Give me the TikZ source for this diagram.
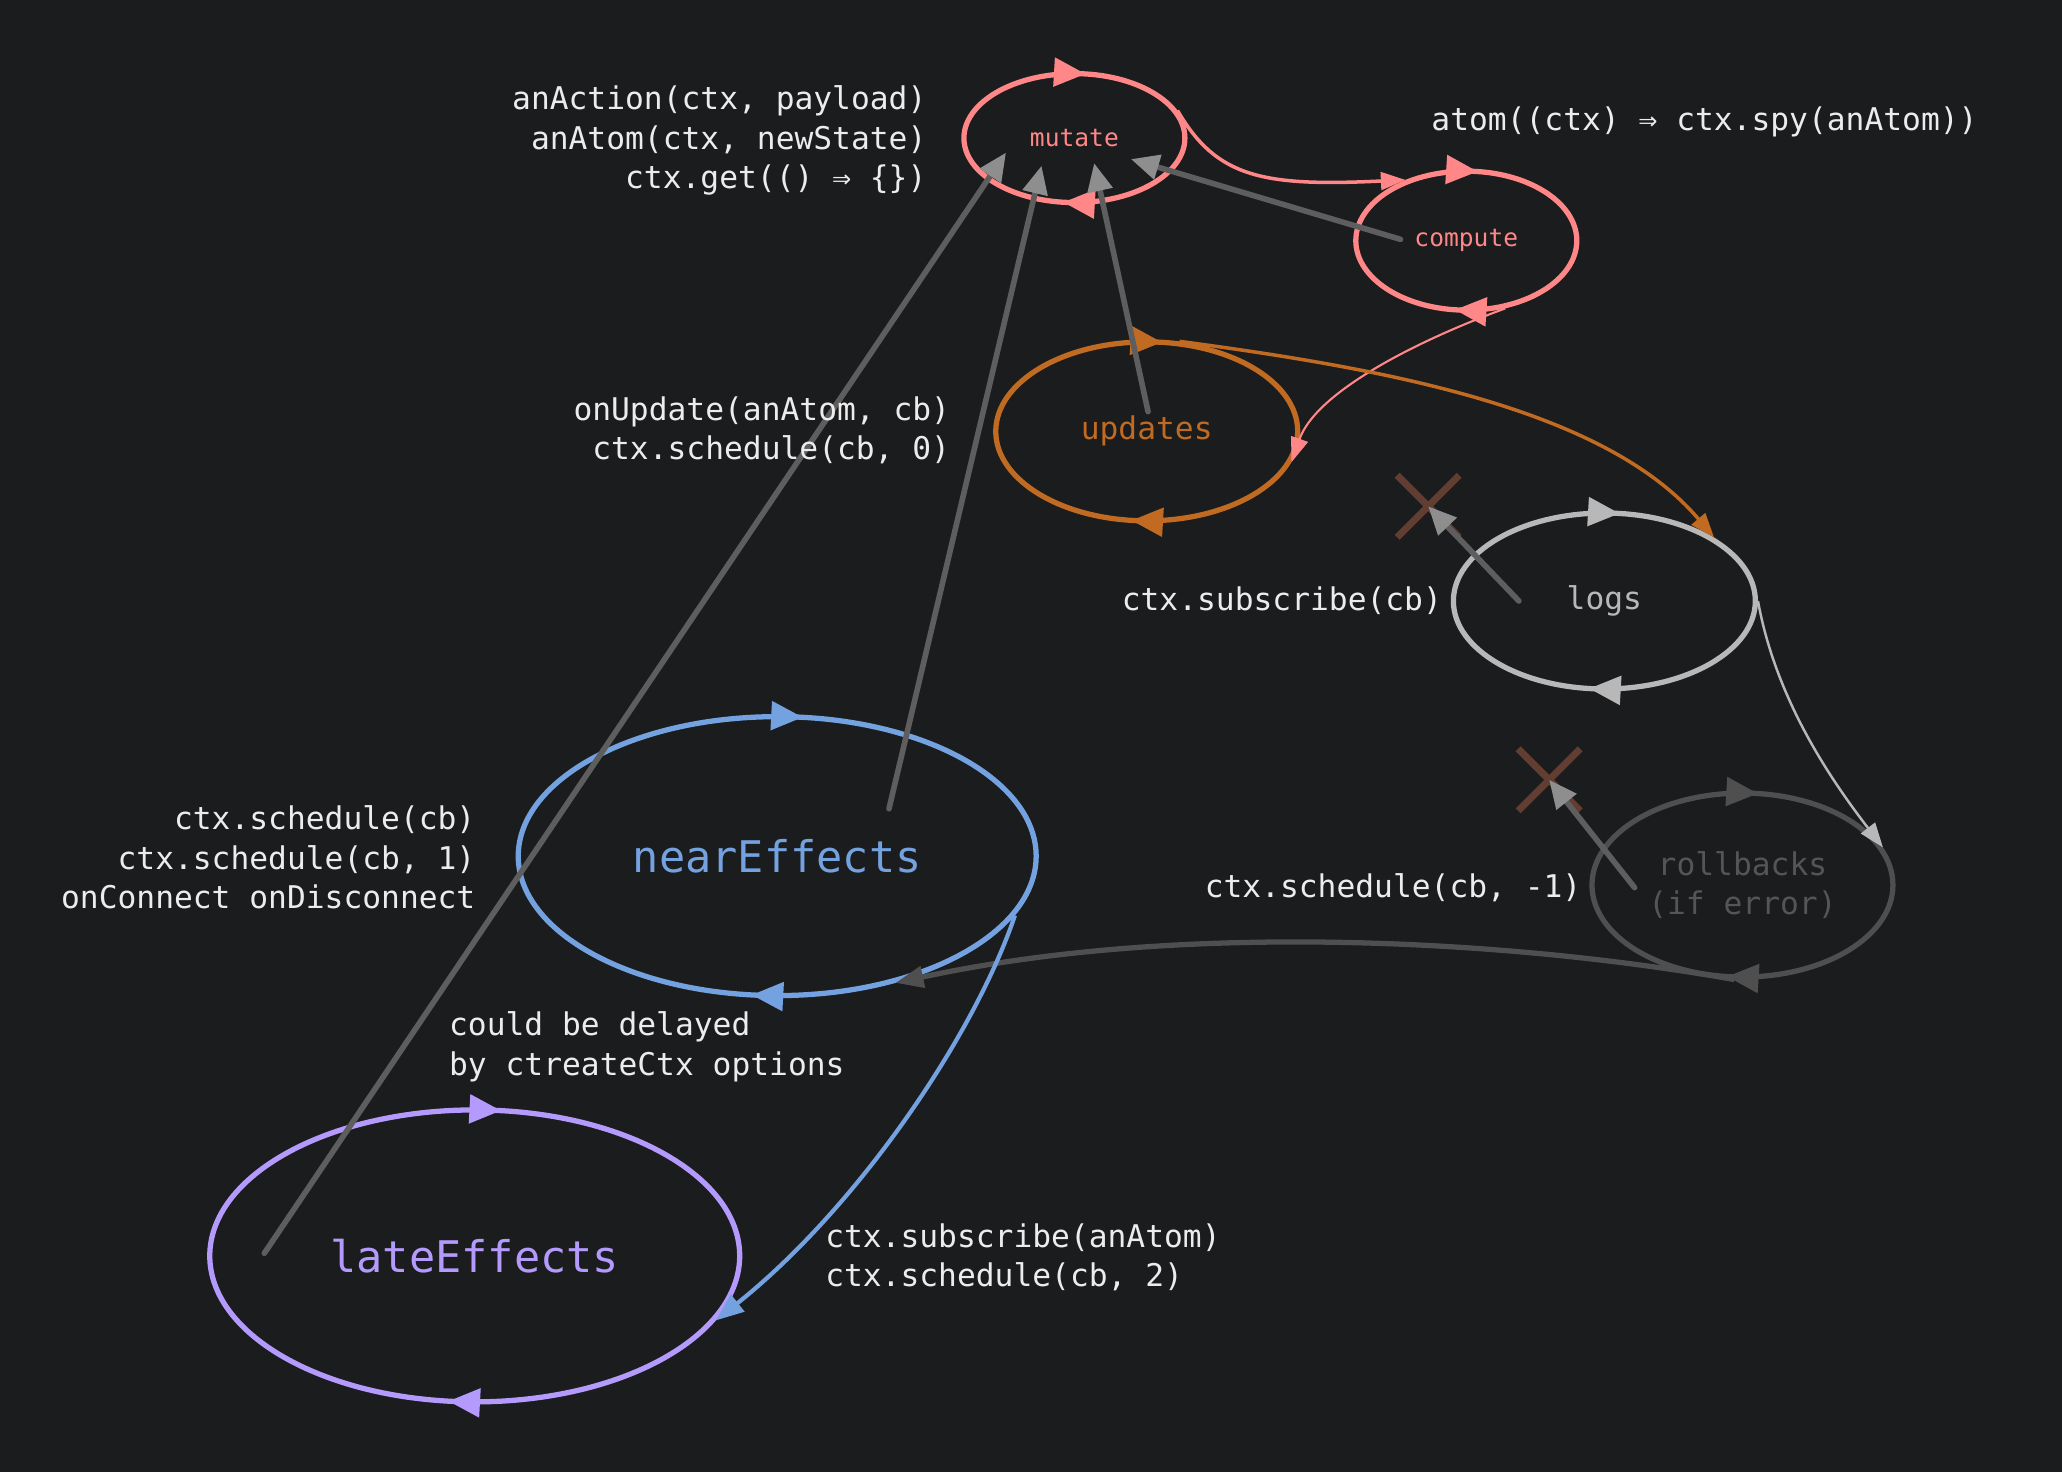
\documentclass[tikz,border=0pt]{standalone}
\usepackage{fontspec}
\setmonofont{DejaVu Sans Mono}
\usepackage{tikz}
\usetikzlibrary{shapes}
\usetikzlibrary{arrows.meta}
\usetikzlibrary{decorations.markings}

\definecolor{bgcol}{HTML}{1B1C1E}
\definecolor{notecol}{HTML}{ECECEC}
\definecolor{salmon}{HTML}{FF8787}
\definecolor{updorange}{HTML}{C06A22}
\definecolor{logsgray}{HTML}{B8B8B8}
\definecolor{rollgray}{HTML}{4F4F4F}
\definecolor{rolltext}{HTML}{555555}
\definecolor{nearblue}{HTML}{74A2E0}
\definecolor{latepurple}{HTML}{B49AFC}
\definecolor{crossbrown}{HTML}{6E4535}
\definecolor{linkgray}{HTML}{5E5E5E}
\definecolor{tipgray}{HTML}{8E8E8E}

\begin{document}
\begin{tikzpicture}[
    x=0.01315cm, y=-0.01315cm,
    font=\ttfamily
]
\tikzset{
    loopnode/.style = {ellipse, draw=#1, text=#1, line width=1.5pt, inner sep=0pt,
        postaction={decorate, decoration={markings,
            mark=at position 0.23 with {\arrowreversed{Triangle[length=9pt,width=8pt,fill=#1]}},
            mark=at position 0.73 with {\arrowreversed{Triangle[length=9pt,width=8pt,fill=#1]}}}}},
    smalltxt/.style = {font=\ttfamily\fontsize{7}{8.5}\selectfont},
    midtxt/.style = {font=\ttfamily\fontsize{8.9}{11.2}\selectfont},
    bigtxt/.style = {font=\ttfamily\fontsize{12.4}{15}\selectfont},
    note/.style = {midtxt, text=notecol, inner sep=0pt},
    crossmark/.style = {cross out, draw=crossbrown, line width=2pt, minimum size=0.55cm, inner sep=0pt, opacity=0.85},
    grayline/.style = {-{Triangle[length=8pt,width=7pt,color=tipgray]}, linkgray, line width=1.6pt, line cap=round},
    salmonline/.style = {-{Triangle[length=7pt,width=5pt]}, salmon, line width=1pt},
    thinsalmon/.style = {-{Triangle[length=7pt,width=5pt]}, salmon, line width=0.6pt},
    orangeline/.style = {-{Triangle[length=7pt,width=5pt]}, updorange, line width=1pt},
    thingray/.style = {-{Triangle[length=7pt,width=5pt]}, logsgray, line width=0.7pt},
    rollline/.style = {-{Triangle[length=8pt,width=6pt]}, rollgray, line width=1.5pt},
    blueline/.style = {-{Triangle[length=8pt,width=6pt]}, nearblue, line width=1.2pt}
}
\path[use as bounding box, fill=bgcol] (0,0) rectangle (1568,1119);

\node[loopnode=salmon, smalltxt, minimum width=2.21cm, minimum height=1.29cm] at (817,105) (mutate) {mutate};
\node[loopnode=salmon, smalltxt, minimum width=2.21cm, minimum height=1.39cm] at (1115,183) (compute) {compute};
\node[loopnode=updorange, midtxt, minimum width=3.02cm, minimum height=1.79cm] at (872,328) (updates) {updates};
\node[loopnode=logsgray, midtxt, minimum width=3.02cm, minimum height=1.76cm] at (1220,457) (logs) {logs};
\node[loopnode=rollgray, text=rolltext, midtxt, align=center, minimum width=3.01cm, minimum height=1.84cm] at (1325,673) (rollbacks) {rollbacks\\(if error)};
\node[loopnode=nearblue, bigtxt, minimum width=5.18cm, minimum height=2.79cm] at (591,651) (nearfx) {nearEffects};
\node[loopnode=latepurple, bigtxt, minimum width=5.30cm, minimum height=2.92cm] at (361,955) (latefx) {lateEffects};

\node[crossmark] at (1086,385) (xlogs) {};
\node[crossmark] at (1178,593) (xroll) {};

\coordinate (m1) at (765,116);
\coordinate (m2) at (792,126);
\coordinate (m3) at (832,124);
\coordinate (m4) at (860,121);
\coordinate (latein) at (201,953);
\coordinate (nearin) at (676,615);
\coordinate (updin) at (873,313);
\coordinate (compin) at (1065,182);
\coordinate (logsin) at (1155,457);
\coordinate (rollin) at (1243,675);

\draw[grayline] (latein) -- (m1);
\draw[grayline] (nearin) -- (m2);
\draw[grayline] (updin) -- (m3);
\draw[grayline] (compin) -- (m4);
\draw[grayline] (logsin) -- (xlogs.center);
\draw[grayline] (rollin) -- (xroll.center);

\node[note, anchor=east, align=right] at (705,107) (actiontxt) {anAction(ctx, payload)\\anAtom(ctx, newState)\\ctx.get(() ⇒ \{\})};
\node[note, anchor=west] at (1088,93) (atomtxt) {atom((ctx) ⇒ ctx.spy(anAtom))};
\node[note, anchor=east, align=right] at (723,327) (updtxt) {onUpdate(anAtom, cb)\\ctx.schedule(cb, 0)};
\node[note, anchor=east] at (1097,457) (subtxt) {ctx.subscribe(cb)};
\node[note, anchor=east, align=right] at (362,652) (schedtxt) {ctx.schedule(cb)\\ctx.schedule(cb, 1)\\onConnect onDisconnect};
\node[note, anchor=east] at (1203,675) (rolltxt) {ctx.schedule(cb, -1)};
\node[note, anchor=west, align=left] at (341,796) (delaytxt) {could be delayed\\by ctreateCtx options};
\node[note, anchor=west, align=left] at (627,956) (latetxt) {ctx.subscribe(anAtom)\\ctx.schedule(cb, 2)};

\draw[salmonline] (mutate.15) .. controls (925,135) and (960,142) .. (compute.135);
\draw[thinsalmon] (compute.-60) .. controls (1070,262) and (1000,300) .. (updates.-12);
\draw[orangeline] (updates.70) .. controls (1050,280) and (1220,310) .. (logs.30);
\draw[thingray] (logs.east) .. controls (1350,530) and (1390,590) .. (rollbacks.15);
\draw[rollline] (rollbacks.-95) .. controls (1150,715) and (900,700) .. (nearfx.-47);
\draw[blueline] (nearfx.-14) .. controls (740,790) and (650,920) .. (latefx.-15);
\end{tikzpicture}
\end{document}
